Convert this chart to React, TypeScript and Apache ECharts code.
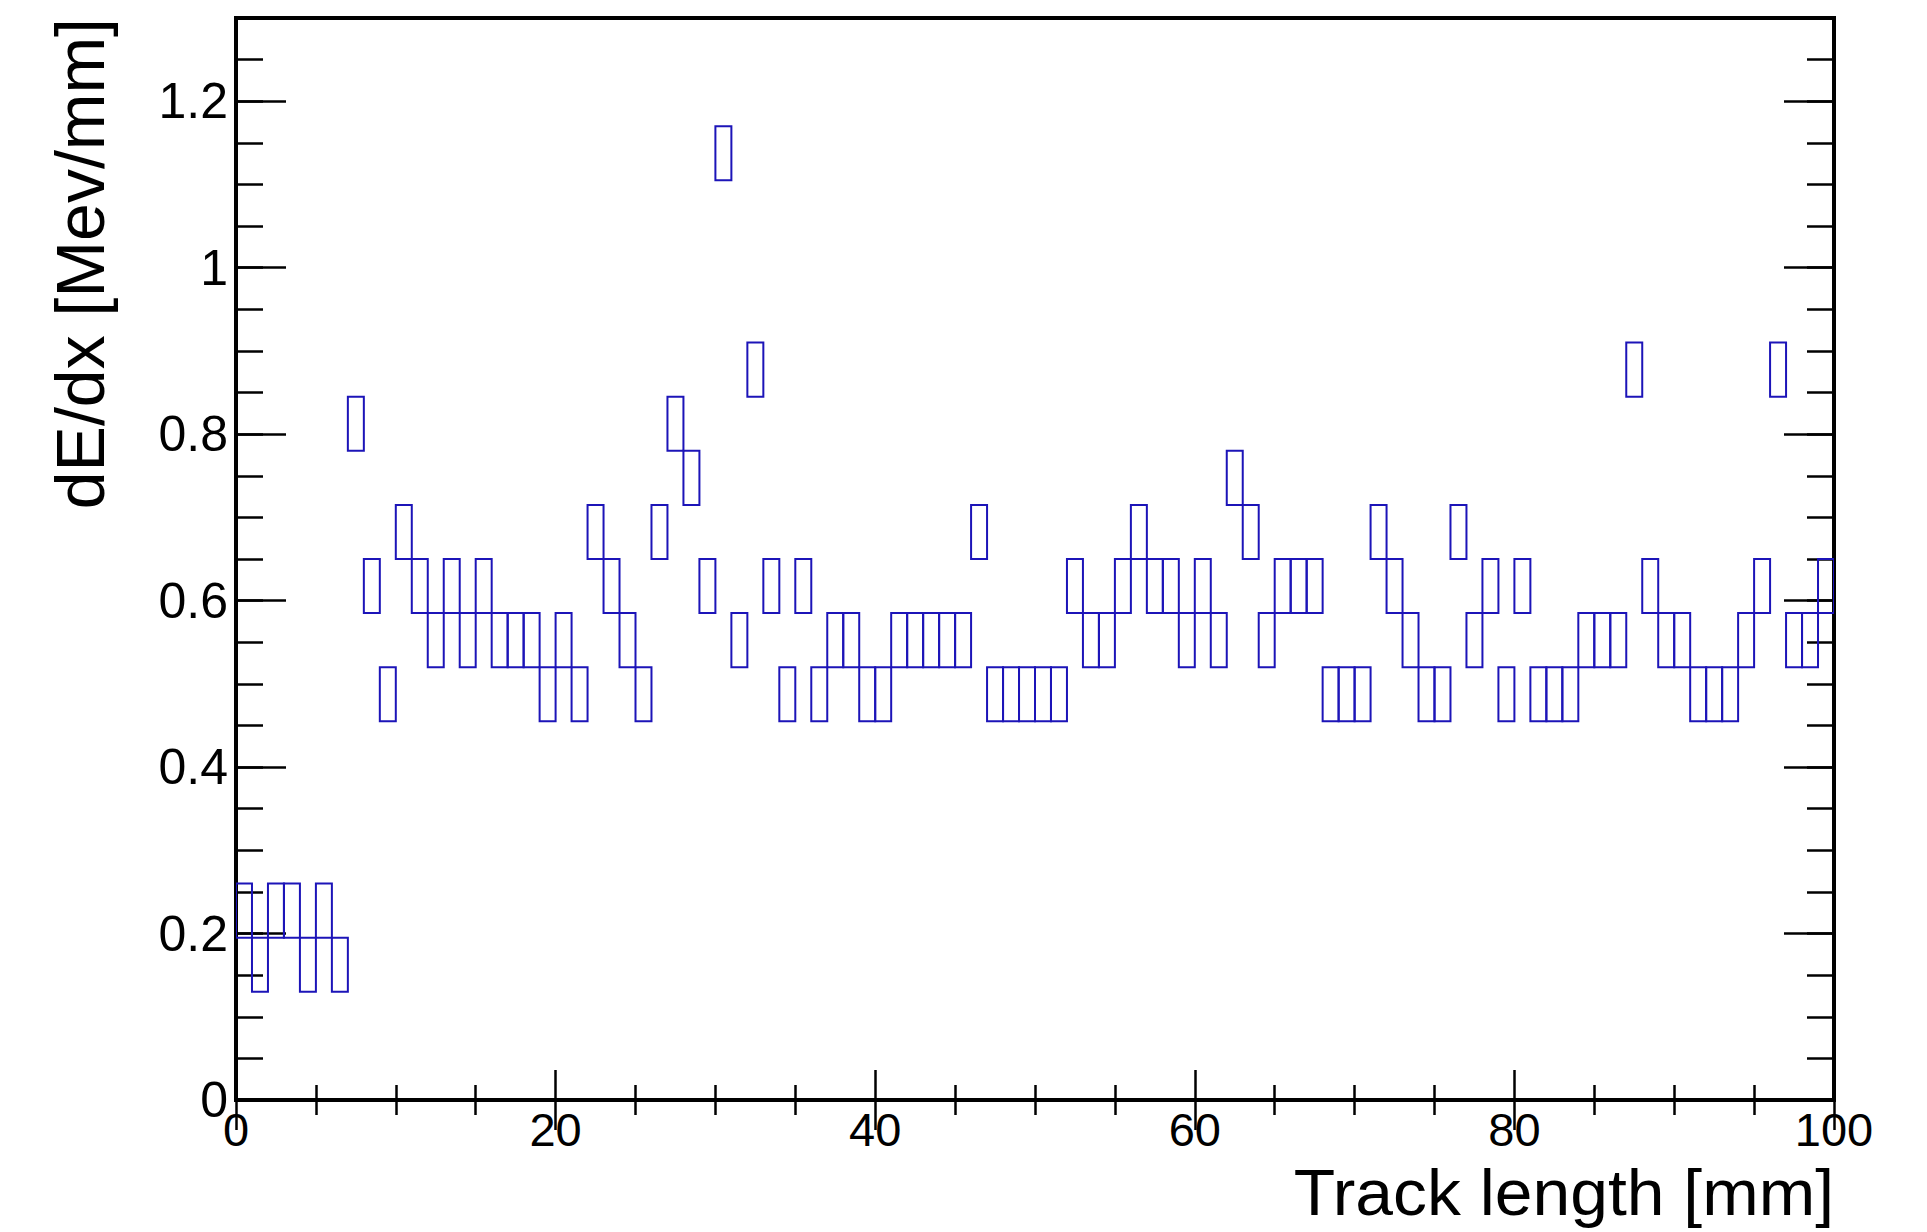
import React, { useEffect, useRef } from "react";
import * as echarts from "echarts";

// Track-length bins (lower edge, mm), 1 mm wide
const trackLengthBins: number[] = [
  0, 1, 2, 3, 4, 5, 6, 7, 8, 9,
  10, 11, 12, 13, 14, 15, 16, 17, 18, 19,
  20, 21, 22, 23, 24, 25, 26, 27, 28, 29,
  30, 31, 32, 33, 34, 35, 36, 37, 38, 39,
  40, 41, 42, 43, 44, 45, 46, 47, 48, 49,
  50, 51, 52, 53, 54, 55, 56, 57, 58, 59,
  60, 61, 62, 63, 64, 65, 66, 67, 68, 69,
  70, 71, 72, 73, 74, 75, 76, 77, 78, 79,
  80, 81, 82, 83, 84, 85, 86, 87, 88, 89,
  90, 91, 92, 93, 94, 95, 96, 97, 98, 99,
];
const X_BIN_WIDTH = 1;

// dE/dx bin index (bin width 0.065 MeV/mm) filled for each track-length bin
const dedxBinIndex: number[] = [
  3, 2, 3, 3, 2, 3, 2, 12, 9, 7,
  10, 9, 8, 9, 8, 9, 8, 8, 8, 7,
  8, 7, 10, 9, 8, 7, 10, 12, 11, 9,
  17, 8, 13, 9, 7, 9, 7, 8, 8, 7,
  7, 8, 8, 8, 8, 8, 10, 7, 7, 7,
  7, 7, 9, 8, 8, 9, 10, 9, 9, 8,
  9, 8, 11, 10, 8, 9, 9, 9, 7, 7,
  7, 10, 9, 8, 7, 7, 10, 8, 9, 7,
  9, 7, 7, 7, 8, 8, 8, 13, 9, 8,
  8, 7, 7, 7, 8, 9, 13, 8, 8, 9,
];
const Y_BIN_WIDTH = 0.065;

const xTickValues = { min: 0, max: 100, major: 20, minorSplit: 4 };
const yTickValues = { min: 0, max: 1.3, major: 0.2, minor: 0.05 };

const xTitle = "Track length [mm]";
const yTitle = "dE/dx [Mev/mm]";

const BOX_COLOR = "#1c14b8";
const FONT = "Liberation Sans, Arial, Helvetica, sans-serif";

export default function App() {
  const ref = useRef<HTMLDivElement>(null);

  useEffect(() => {
    if (!ref.current) return;
    const chart = echarts.init(ref.current, undefined, { renderer: "svg" });

    const data = trackLengthBins.map((x, i) => [
      x,
      dedxBinIndex[i] * Y_BIN_WIDTH,
      (dedxBinIndex[i] + 1) * Y_BIN_WIDTH,
    ]);

    const tickLine = { color: "#000", width: 2.5 };
    const baseX = {
      type: "value",
      min: xTickValues.min,
      max: xTickValues.max,
      interval: xTickValues.major,
      splitLine: { show: false },
      axisLine: { show: false },
      axisTick: { show: true, inside: true, length: 30, lineStyle: tickLine },
      minorTick: { show: true, splitNumber: xTickValues.minorSplit, length: 15, lineStyle: tickLine },
    };
    const baseY = {
      type: "value",
      min: yTickValues.min,
      max: yTickValues.max,
      splitLine: { show: false },
      axisLine: { show: false },
    };

    chart.setOption({
      animation: false,
      backgroundColor: "#fff",
      grid: {
        left: 236,
        top: 18,
        right: 93,
        bottom: 132,
        show: true,
        borderColor: "#000",
        borderWidth: 4,
        backgroundColor: "transparent",
      },
      xAxis: [
        {
          ...baseX,
          position: "bottom",
          axisLabel: {
            show: true,
            margin: 8,
            fontSize: 47,
            lineHeight: 42,
            fontFamily: FONT,
            color: "#000",
          },
        },
        {
          ...baseX,
          position: "top",
          axisLabel: { show: false },
        },
      ],
      yAxis: [
        {
          ...baseY,
          position: "left",
          interval: yTickValues.major,
          axisTick: { show: true, inside: true, length: 50, lineStyle: tickLine },
          axisLabel: {
            show: true,
            margin: 8,
            fontSize: 50,
            fontFamily: FONT,
            color: "#000",
            showMaxLabel: false,
          },
        },
        {
          ...baseY,
          position: "left",
          interval: yTickValues.minor,
          axisTick: { show: true, inside: true, length: 27, lineStyle: tickLine },
          axisLabel: { show: false },
        },
        {
          ...baseY,
          position: "right",
          interval: yTickValues.major,
          axisTick: { show: true, inside: true, length: 50, lineStyle: tickLine },
          axisLabel: { show: false },
        },
        {
          ...baseY,
          position: "right",
          interval: yTickValues.minor,
          axisTick: { show: true, inside: true, length: 27, lineStyle: tickLine },
          axisLabel: { show: false },
        },
      ],
      series: [
        {
          type: "custom",
          xAxisIndex: 0,
          yAxisIndex: 0,
          clip: true,
          data,
          renderItem: (params: any, api: any) => {
            const x = api.value(0);
            const lo = api.value(1);
            const hi = api.value(2);
            const p0 = api.coord([x, hi]);
            const p1 = api.coord([x + X_BIN_WIDTH, lo]);
            return {
              type: "rect",
              shape: {
                x: p0[0],
                y: p0[1],
                width: p1[0] - p0[0],
                height: p1[1] - p0[1],
              },
              style: { fill: "none", stroke: BOX_COLOR, lineWidth: 2 },
            };
          },
        },
      ],
      graphic: [
        {
          type: "text",
          x: 1834,
          y: 1193,
          scaleX: 1.06,
          style: {
            text: xTitle,
            font: `64px ${FONT}`,
            lineHeight: 58,
            fill: "#000",
            textAlign: "right",
            textVerticalAlign: "middle",
          },
        },
        {
          type: "text",
          x: 80,
          y: 18,
          rotation: Math.PI / 2,
          style: {
            text: yTitle,
            font: `68px ${FONT}`,
            fill: "#000",
            textAlign: "right",
            textVerticalAlign: "middle",
          },
        },
      ],
    });

    return () => chart.dispose();
  }, []);

  return (
    <div
      ref={ref}
      style={{ position: "fixed", left: 0, top: 0, width: 1927, height: 1232, background: "#fff" }}
    />
  );
}
